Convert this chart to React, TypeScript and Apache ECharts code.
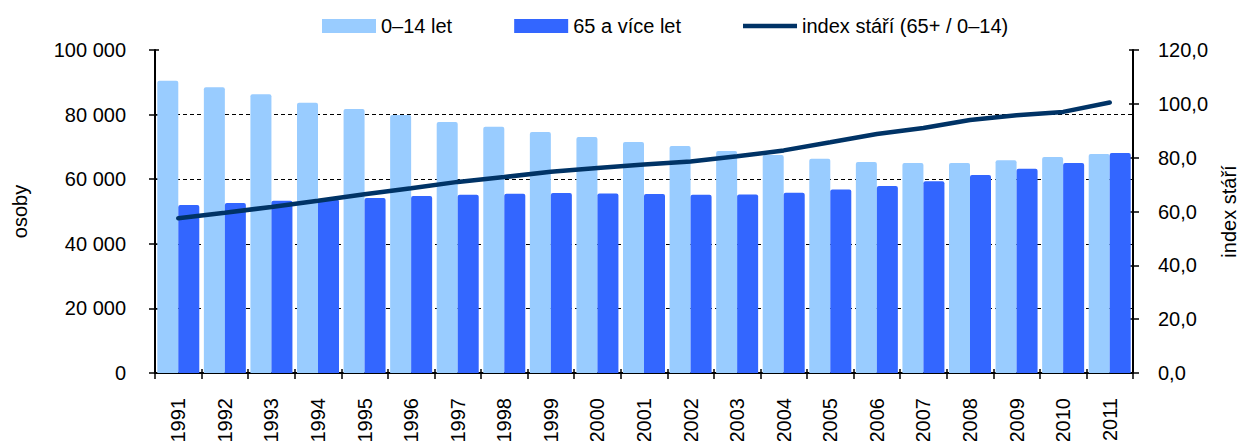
import React, { useEffect, useRef } from "react";
import * as echarts from "echarts";

const years = ["1991","1992","1993","1994","1995","1996","1997","1998","1999","2000","2001","2002","2003","2004","2005","2006","2007","2008","2009","2010","2011"];
const children = [90500, 88500, 86300, 83700, 81700, 79900, 77700, 76200, 74600, 73100, 71500, 70300, 68700, 67500, 66300, 65300, 65000, 65000, 65900, 66900, 67800];
const seniors = [52000, 52600, 53300, 53700, 54200, 54800, 55200, 55500, 55700, 55600, 55400, 55200, 55300, 55800, 56800, 57900, 59400, 61300, 63200, 65000, 68100];
const ageIndex = [57.5, 59.5, 61.7, 64.0, 66.4, 68.6, 71.0, 72.8, 74.8, 76.2, 77.5, 78.6, 80.5, 82.7, 85.7, 88.8, 91.0, 94.0, 95.8, 97.0, 100.5];

const FONT = "'Liberation Sans', Arial, sans-serif";
const FS = 20;

function fmtThousands(v: number) {
  return String(v).replace(/\B(?=(\d{3})+(?!\d))/g, " ");
}

export default function App() {
  const ref = useRef<HTMLDivElement>(null);
  useEffect(() => {
    if (!ref.current) return;
    const chart = echarts.init(ref.current, undefined, { renderer: "svg" });
    const axisLine = { show: true, lineStyle: { color: "#000", width: 2 } };
    const tickStyle = { color: "#000", width: 1.5 };
    chart.setOption({
      animation: false,
      textStyle: { fontFamily: FONT, color: "#000" },
      legend: {
        left: 317,
        top: 11,
        itemGap: 62,
        itemWidth: 54,
        itemHeight: 14,
        symbolKeepAspect: true,
        textStyle: { fontSize: FS, color: "#000", fontFamily: FONT },
        data: [
          { name: "0–14 let", icon: "rect" },
          { name: "65 a více let", icon: "rect" },
          { name: "index stáří (65+ / 0–14)", icon: "path://M0,0L54,0L54,4.5L0,4.5Z" },
        ],
      },
      grid: { left: 155, right: 107, top: 50, bottom: 68, containLabel: false, outerBoundsMode: "none" },
      xAxis: [
        {
          type: "category",
          data: years,
          axisLine,
          axisTick: { show: true, length: 6, lineStyle: tickStyle },
          axisLabel: { rotate: 90, fontSize: FS, color: "#000", margin: 25, fontFamily: FONT },
        },
        {
          type: "category",
          data: years,
          position: "bottom",
          axisLine: { show: false },
          axisTick: { show: true, inside: true, length: 4, lineStyle: tickStyle },
          axisLabel: { show: false },
        },
      ],
      yAxis: [
        {
          type: "value",
          min: 0,
          max: 100000,
          interval: 20000,
          position: "left",
          name: "osoby",
          nameLocation: "middle",
          nameGap: 125,
          nameTextStyle: { fontSize: FS, color: "#000", fontFamily: FONT },
          axisLine,
          axisTick: { show: true, length: 6, lineStyle: tickStyle },
          axisLabel: { fontSize: FS, color: "#000", margin: 29, fontFamily: FONT, formatter: (v: number) => fmtThousands(v) },
          splitLine: {
            show: true,
            lineStyle: { color: ["#000", "#000", "#000", "#000", "#000", "rgba(0,0,0,0)"], type: [4, 3], width: 1 },
          },
        },
        {
          type: "value",
          min: 0,
          max: 120,
          interval: 20,
          position: "right",
          name: "index stáří",
          nameLocation: "middle",
          nameGap: 85,
          nameRotate: 90,
          nameTextStyle: { fontSize: FS, color: "#000", fontFamily: FONT },
          axisLine,
          axisTick: { show: true, length: 6, lineStyle: tickStyle },
          axisLabel: { fontSize: FS, color: "#000", margin: 25, fontFamily: FONT, formatter: (v: number) => v.toFixed(1).replace(".", ",") },
          splitLine: { show: false },
        },
        {
          type: "value",
          min: 0,
          max: 100000,
          interval: 20000,
          position: "left",
          axisLine: { show: false },
          axisTick: { show: true, inside: true, length: 4, lineStyle: tickStyle },
          axisLabel: { show: false },
          splitLine: { show: false },
        },
        {
          type: "value",
          min: 0,
          max: 120,
          interval: 20,
          position: "right",
          axisLine: { show: false },
          axisTick: { show: true, inside: true, length: 4, lineStyle: tickStyle },
          axisLabel: { show: false },
          splitLine: { show: false },
        },
      ],
      series: [
        {
          name: "0–14 let",
          type: "bar",
          data: children,
          barWidth: 21,
          barGap: "0%",
          itemStyle: { color: "#99CCFF", borderRadius: [2, 2, 0, 0] },
        },
        {
          name: "65 a více let",
          type: "bar",
          data: seniors,
          barWidth: 21,
          barGap: "0%",
          itemStyle: { color: "#3366FF", borderRadius: [2, 2, 0, 0] },
        },
        {
          name: "index stáří (65+ / 0–14)",
          type: "line",
          yAxisIndex: 1,
          data: ageIndex,
          symbol: "none",
          lineStyle: { color: "#003366", width: 4.5, cap: "round" },
          itemStyle: { color: "#003366" },
          z: 5,
        },
      ],
    });
    return () => chart.dispose();
  }, []);
  return (
    <div
      ref={ref}
      style={{ position: "absolute", left: 0, top: 0, width: 1240, height: 441 }}
    />
  );
}
